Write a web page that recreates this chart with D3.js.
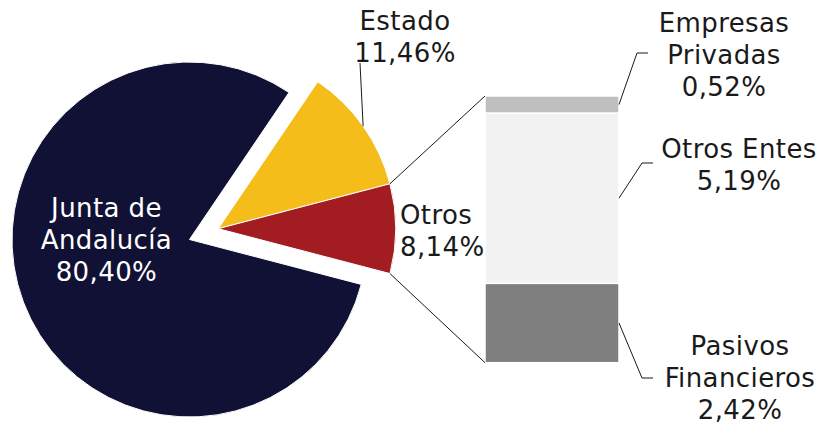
<!DOCTYPE html>
<html lang="es">
<head>
<meta charset="UTF-8">
<title>Pie of bar</title>
<script src="https://cdn.jsdelivr.net/npm/d3@7"></script>
<style>
  body { margin: 0; background: #fff; }
  text { font-family: "DejaVu Sans", sans-serif; font-size: 26px; letter-spacing: 0.4px; }
</style>
</head>
<body>
<div id="chart"></div>
<script>
// pie: main slices
const pieLabels = ["Estado", "Otros", "Junta de Andalucía"];
const pieValues = [11.46, 8.14, 80.40];
const pieColors = ["#f5bd1a", "#a31c22", "#111135"];

// bar: breakdown of "Otros", bottom to top
const barLabels = ["Pasivos Financieros", "Otros Entes", "Empresas Privadas"];
const barValues = [2.42, 5.19, 0.52];
const barColors = ["#7f7f7f", "#f2f2f2", "#bfbfbf"];

const fmt = v => d3.format(".2f")(v).replace(".", ",") + "%";

const width = 821, height = 425;
const radius = 177.5;
const cx = 189.5, cy = 239.5;   // centre of the big slice
const explode = 30.7;

const svg = d3.select("#chart").append("svg")
    .attr("width", width)
    .attr("height", height);

// rotate so "Otros" points straight right
const total = d3.sum(pieValues);
const start = Math.PI / 2 - (pieValues[0] + pieValues[1] / 2) / total * 2 * Math.PI;

const pie = d3.pie().sort(null).value(d => d)
    .startAngle(start).endAngle(start + 2 * Math.PI);
const arcs = pie(pieValues);
const arc = d3.arc().innerRadius(0).outerRadius(radius);

// small slices are pulled out together
const groupMid = (arcs[0].startAngle + arcs[1].endAngle) / 2;
const sx = cx + explode * Math.sin(groupMid);
const sy = cy - explode * Math.cos(groupMid);
const centres = [[sx, sy], [sx, sy], [cx, cy]];

svg.selectAll("path.slice")
    .data(arcs)
    .join("path")
    .attr("class", "slice")
    .attr("transform", (d, i) => `translate(${centres[i][0]},${centres[i][1]})`)
    .attr("d", arc)
    .attr("fill", (d, i) => pieColors[i])
    .attr("stroke", "#fff")
    .attr("stroke-width", 1);

// bar
const barX = 485, barW = 134;
const y = d3.scaleLinear().domain([0, d3.sum(barValues)]).range([362.7, 96]);
const stacked = [];
barValues.reduce((acc, v, i) => { stacked.push({ y0: acc, y1: acc + v, i }); return acc + v; }, 0);

svg.selectAll("rect.seg")
    .data(stacked)
    .join("rect")
    .attr("class", "seg")
    .attr("x", barX)
    .attr("width", barW)
    .attr("y", d => y(d.y1))
    .attr("height", d => y(d.y0) - y(d.y1))
    .attr("fill", d => barColors[d.i])
    .attr("stroke", "#fff")
    .attr("stroke-width", 1.5);

// connectors from "Otros" slice to the bar
const o = arcs[1];
const p1 = [sx + radius * Math.sin(o.startAngle), sy - radius * Math.cos(o.startAngle)];
const p2 = [sx + radius * Math.sin(o.endAngle), sy - radius * Math.cos(o.endAngle)];
const lineCol = "#1a1a1a";
svg.append("line").attr("x1", p1[0]).attr("y1", p1[1]).attr("x2", barX).attr("y2", y(d3.sum(barValues)))
    .attr("stroke", lineCol).attr("stroke-width", 1);
svg.append("line").attr("x1", p2[0]).attr("y1", p2[1]).attr("x2", barX).attr("y2", y(0))
    .attr("stroke", lineCol).attr("stroke-width", 1);

// labels
function label(lines, x, yMid, fill, anchor = "middle") {
    const lh = 32;
    const t = svg.append("text")
        .attr("text-anchor", anchor)
        .attr("fill", fill);
    lines.forEach((s, k) => {
        t.append("tspan")
            .attr("x", x)
            .attr("y", yMid + (k - (lines.length - 1) / 2) * lh)
            .attr("dy", "0.35em")
            .text(s);
    });
}

const txt = "#1a1a1a";

// Junta de Andalucía, inside
const jc = arc.centroid(arcs[2]);
label(["Junta de", "Andalucía", fmt(pieValues[2])], cx + jc[0], 240, "#fff");

// Estado, outside with leader
label([pieLabels[0], fmt(pieValues[0])], 405, 36.5, txt);
const em = (arcs[0].startAngle + arcs[0].endAngle) / 2;
svg.append("line")
    .attr("x1", sx + radius * Math.sin(em)).attr("y1", sy - radius * Math.cos(em))
    .attr("x2", 360).attr("y2", 63)
    .attr("stroke", lineCol).attr("stroke-width", 1);

// Otros, left aligned beside the slice
label([pieLabels[1], fmt(pieValues[1])], 400, 230.5, txt, "start");

// bar labels
const barLabelPos = [
    { x: 740, y: 378, bend: [642, 378], end: 653, lines: ["Pasivos", "Financieros"] },
    { x: 739, y: 164.5, bend: [642, 163], end: 653, lines: ["Otros Entes"] },
    { x: 724, y: 55, bend: [637, 53], end: 648, lines: ["Empresas", "Privadas"] }
];
stacked.forEach((d, i) => {
    const p = barLabelPos[i];
    label([...p.lines, fmt(barValues[i])], p.x, p.y, txt);
    const ym = (y(d.y0) + y(d.y1)) / 2;
    svg.append("polyline")
        .attr("points", [[barX + barW, ym], p.bend, [p.end, p.bend[1]]].map(q => q.join(",")).join(" "))
        .attr("fill", "none")
        .attr("stroke", lineCol)
        .attr("stroke-width", 1);
});
</script>
</body>
</html>
